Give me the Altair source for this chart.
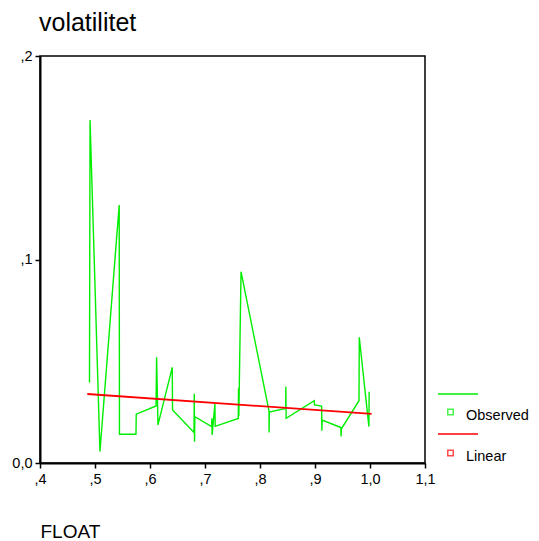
import altair as alt
import pandas as pd

# Observed series (path order)
obs_x = [0.490, 0.491, 0.509, 0.544, 0.5445, 0.5745, 0.575, 0.611, 0.612, 0.6145,
         0.6405, 0.641, 0.680, 0.6805, 0.681, 0.6815, 0.712, 0.7125, 0.713, 0.718,
         0.7185, 0.7605, 0.761, 0.7615, 0.7655, 0.8164, 0.8165, 0.817, 0.8467, 0.847,
         0.8475, 0.8987, 0.899, 0.912, 0.9125, 0.913, 0.947, 0.9475, 0.948, 0.980,
         0.9805, 0.998, 0.9985]
obs_y = [0.0395, 0.1686, 0.0056, 0.1268, 0.0141, 0.0141, 0.024, 0.028, 0.052, 0.0187,
         0.047, 0.026, 0.015, 0.034, 0.0105, 0.0228, 0.0179, 0.022, 0.0138, 0.029,
         0.018, 0.0219, 0.0367, 0.023, 0.094, 0.0255, 0.015, 0.025, 0.0268, 0.0375,
         0.022, 0.0306, 0.0285, 0.028, 0.0159, 0.0211, 0.0174, 0.013, 0.0168, 0.0306,
         0.0618, 0.0179, 0.035]

# Linear fit line (endpoints)
lin_x = [0.486, 1.003]
lin_y = [0.0339, 0.0241]

x_ticks = [0.4, 0.5, 0.6, 0.7, 0.8, 0.9, 1.0, 1.1]
y_ticks = [0.0, 0.1, 0.2]

obs = pd.DataFrame({"x": obs_x, "y": obs_y, "i": list(range(len(obs_x)))})
lin = pd.DataFrame({"x": lin_x, "y": lin_y})

FONT = "Liberation Sans"
label_expr = "datum.value == 0 ? '0,0' : replace(replace(format(datum.value, '.1f'), '0.', ','), '.', ',')"

xs = alt.Scale(domain=[0.4, 1.1], nice=False, zero=False)
ys = alt.Scale(domain=[0, 0.2], nice=False)

xax = alt.Axis(values=x_ticks, labelExpr=label_expr, grid=False, tickSize=5,
               labelPadding=4, labelFontSize=14.5, labelFont=FONT, labelColor="#000",
               domainColor="#000", domainWidth=2, tickColor="#000", tickWidth=1.5,
               title="FLOAT", titleFont=FONT, titleFontSize=19, titleFontWeight="normal",
               titleColor="#000", titleX=0, titleY=74, titleAlign="left",
               titleBaseline="alphabetic", labelFlush=False)
yax = alt.Axis(values=y_ticks, labelExpr=label_expr, grid=False, tickSize=5,
               labelPadding=3, labelFontSize=14.5, labelFont=FONT, labelColor="#000",
               domainColor="#000", domainWidth=2, tickColor="#000", tickWidth=1.5,
               title=None, labelFlush=False)

green = "#00ee00"
red = "#ff0000"

obs_line = alt.Chart(obs).mark_line(color=green, strokeWidth=1.4, clip=True).encode(
    x=alt.X("x:Q", scale=xs, axis=xax),
    y=alt.Y("y:Q", scale=ys, axis=yax),
    order="i:Q",
)
lin_line = alt.Chart(lin).mark_line(color=red, strokeWidth=1.8).encode(
    x=alt.X("x:Q", scale=xs),
    y=alt.Y("y:Q", scale=ys),
)

title = alt.Chart(pd.DataFrame({"t": ["volatilitet"]})).mark_text(
    align="left", baseline="alphabetic", fontSize=25, font=FONT, color="#000"
).encode(x=alt.value(-1), y=alt.value(-25), text="t:N")

# Legend
leg_g = alt.Chart(pd.DataFrame({"a": [1]})).mark_rule(color=green, strokeWidth=1.5).encode(
    x=alt.value(398), x2=alt.value(438), y=alt.value(338))
leg_r = alt.Chart(pd.DataFrame({"a": [1]})).mark_rule(color=red, strokeWidth=1.5).encode(
    x=alt.value(398), x2=alt.value(438), y=alt.value(378))
sq_g = alt.Chart(pd.DataFrame({"a": [1]})).mark_point(shape="square", color=green, size=30, strokeWidth=1.5, filled=False).encode(
    x=alt.value(410.5), y=alt.value(356))
sq_r = alt.Chart(pd.DataFrame({"a": [1]})).mark_point(shape="square", color=red, size=30, strokeWidth=1.5, filled=False).encode(
    x=alt.value(410.5), y=alt.value(397))
txt_o = alt.Chart(pd.DataFrame({"t": ["Observed"]})).mark_text(
    align="left", baseline="alphabetic", fontSize=14.5, font=FONT, color="#000"
).encode(x=alt.value(426), y=alt.value(364), text="t:N")
txt_l = alt.Chart(pd.DataFrame({"t": ["Linear"]})).mark_text(
    align="left", baseline="alphabetic", fontSize=14.5, font=FONT, color="#000"
).encode(x=alt.value(426), y=alt.value(405), text="t:N")

chart = alt.layer(obs_line, lin_line, title, leg_g, leg_r, sq_g, sq_r, txt_o, txt_l).properties(
    width=385, height=407,
    autosize=alt.AutoSizeParams(type="none"),
    padding={"left": 32, "top": 48, "right": 106, "bottom": 78},
).configure(background="white").configure_view(stroke="#000", strokeWidth=1.5)

chart.save("out.html", embed_options={"renderer": "svg", "actions": False})
